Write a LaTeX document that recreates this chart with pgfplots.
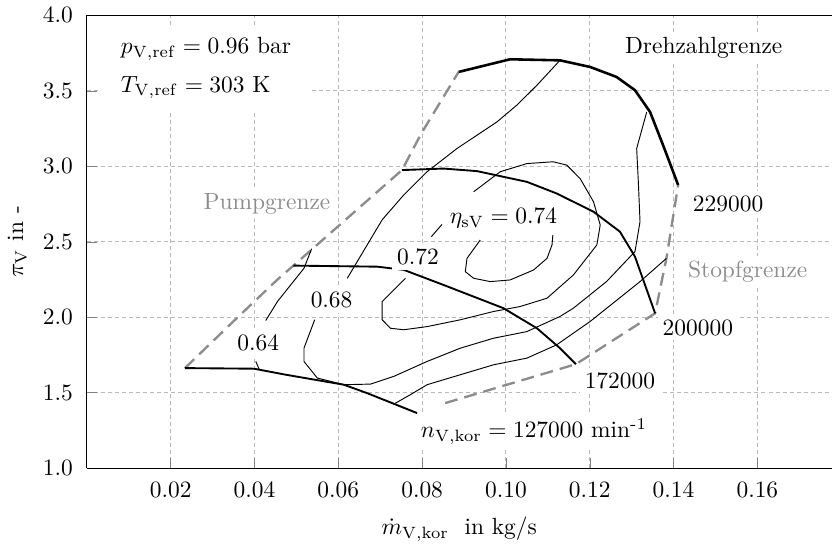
\documentclass[border=0pt]{standalone}
\usepackage{pgfplots}
\pgfplotsset{compat=1.18}
\definecolor{grenz}{gray}{0.55}
\begin{document}
\begin{tikzpicture}
\begin{axis}[
    scale only axis, width=317.9pt, height=193.3pt,
    xmin=0, xmax=0.1777, ymin=1, ymax=4,
    axis y line*=left, y axis line style={-},
    xtick={0.02,0.04,0.06,0.08,0.10,0.12,0.14,0.16},
    ytick={1.0,1.5,2.0,2.5,3.0,3.5,4.0},
    scaled x ticks=false,
    tick align=inside, xtick pos=bottom, ytick pos=left,
    xticklabel style={yshift=-2.5pt, /pgf/number format/.cd, fixed, fixed zerofill, precision=2},
    yticklabel style={xshift=-2.5pt, /pgf/number format/.cd, fixed, fixed zerofill, precision=1},
    grid=major,
    major grid style={gray!55, dash pattern=on 1.7pt off 1.3pt, line width=0.4pt},
    xlabel={$\dot{m}_{\mathrm{V,kor}}$\ \ in kg/s},
    xlabel style={yshift=-1.5pt},
    ylabel={$\pi_{\mathrm{V}}$ in -},
]
% Pumpgrenze / Stopfgrenze
\addplot[grenz, line width=1pt, dash pattern=on 5.5pt off 3pt] coordinates {
(0.0234,1.663)(0.0360,2.0)(0.0455,2.25)(0.0493,2.342)(0.0752,2.975)(0.0798,3.217)(0.0887,3.625)};
\addplot[grenz, line width=1pt, dash pattern=on 5.5pt off 3pt] coordinates {
(0.0855,1.431)(0.1167,1.689)(0.1356,2.026)(0.1383,2.390)(0.1411,2.876)};
% Drehzahllinien
\addplot[black, line width=0.8pt] coordinates {
(0.0234,1.663)(0.0399,1.659)(0.0475,1.619)(0.0613,1.553)(0.0669,1.497)(0.0788,1.365)};
\addplot[black, line width=0.8pt] coordinates {
(0.0493,2.342)(0.0693,2.335)(0.0756,2.314)(0.0851,2.214)(0.0994,2.060)(0.1074,1.927)(0.1129,1.795)(0.1167,1.689)};
\addplot[black, line width=0.8pt] coordinates {
(0.0752,2.975)(0.0851,2.985)(0.0931,2.968)(0.1050,2.897)(0.1121,2.820)(0.1209,2.699)(0.1272,2.567)(0.1308,2.401)(0.1356,2.026)};
\addplot[black, line width=1.1pt] coordinates {
(0.0887,3.625)(0.1010,3.709)(0.1129,3.702)(0.1201,3.658)(0.1264,3.592)(0.1308,3.504)(0.1344,3.360)(0.1375,3.140)(0.1411,2.876)};
% Wirkungsgrad 0.64
\addplot[black, line width=0.4pt] coordinates {
(0.04269,1.978)(0.04548,2.104)(0.04864,2.214)(0.05181,2.324)(0.05364,2.454)};
\addplot[black, line width=0.4pt] coordinates {(0.04031,1.707)(0.04110,1.657)};
\addplot[black, line width=0.4pt] coordinates {
(0.0736,1.430)(0.07721,1.487)(0.08119,1.553)(0.08912,1.619)(0.09705,1.685)(0.1050,1.729)(0.1121,1.817)(0.1201,1.972)(0.1320,2.236)(0.1383,2.390)};
% Wirkungsgrad 0.68
\addplot[black, line width=0.4pt] coordinates {
(0.06214,2.258)(0.07048,2.646)(0.07562,2.810)(0.08119,2.964)(0.08833,3.118)(0.09786,3.294)(0.1026,3.405)(0.1074,3.537)(0.1129,3.702)};
\addplot[black, line width=0.4pt] coordinates {
(0.05436,1.983)(0.05181,1.795)(0.05181,1.707)(0.0550,1.597)(0.06133,1.553)(0.06769,1.557)(0.07324,1.608)(0.08119,1.707)(0.08912,1.795)(0.09705,1.861)(0.1050,1.905)(0.1129,2.005)(0.1161,2.060)(0.1240,2.236)(0.1308,2.435)(0.1320,2.633)(0.1316,2.897)(0.1312,3.118)(0.1336,3.360)};
% Wirkungsgrad 0.72
\addplot[black, line width=0.4pt] coordinates {(0.08221,2.534)(0.08476,2.615)};
\addplot[black, line width=0.4pt] coordinates {
(0.09229,2.831)(0.09864,2.964)(0.1050,3.018)(0.1113,3.030)(0.1145,3.008)(0.1177,2.919)(0.1209,2.765)(0.1225,2.611)(0.1217,2.479)(0.1161,2.280)(0.1098,2.126)(0.1034,2.071)(0.09705,2.038)(0.08912,1.983)(0.08119,1.938)(0.07562,1.917)(0.07245,1.927)(0.07048,1.983)(0.07048,2.104)(0.07602,2.258)};
% Wirkungsgrad 0.74
\addplot[black, line width=0.4pt] coordinates {
(0.09388,2.512)(0.09071,2.390)(0.09031,2.302)(0.09229,2.258)(0.09626,2.236)(0.1010,2.247)(0.1066,2.313)(0.1098,2.390)(0.1110,2.479)(0.1112,2.545)};
% Beschriftungen
\node[anchor=north west, align=left, fill=white, inner xsep=9pt, inner ysep=5pt] at (axis cs:0.0030,3.935)
  {$p_{\mathrm{V,ref}} = 0.96$ bar\\[4.5pt] $T_{\mathrm{V,ref}} = 303$ K};
\node[fill=white, inner sep=2pt] at (axis cs:0.1472,3.784) {Drehzahlgrenze};
\node[fill=white, inner sep=2pt, text=grenz] at (axis cs:0.0430,2.752) {Pumpgrenze};
\node[fill=white, inner sep=2pt, text=grenz] at (axis cs:0.1577,2.302) {Stopfgrenze};
\node[fill=white, inner sep=2pt, anchor=west] at (axis cs:0.1434,2.752) {229000};
\node[fill=white, inner sep=2pt] at (axis cs:0.1458,1.932) {200000};
\node[fill=white, inner sep=2pt] at (axis cs:0.1272,1.581) {172000};
\node[fill=white, inner sep=2pt] at (axis cs:0.1067,1.244) {$n_{\mathrm{V,kor}} = 127000$ min\textsuperscript{-1}};
\node[fill=white, inner sep=2pt] at (axis cs:0.0409,1.829) {0.64};
\node[fill=white, inner sep=2pt] at (axis cs:0.0584,2.114) {0.68};
\node[fill=white, inner sep=2pt] at (axis cs:0.0790,2.399) {0.72};
\node[fill=white, inner sep=2pt] at (axis cs:0.0994,2.655) {$\eta_{\mathrm{sV}} = 0.74$};
\end{axis}
\end{tikzpicture}
\end{document}
